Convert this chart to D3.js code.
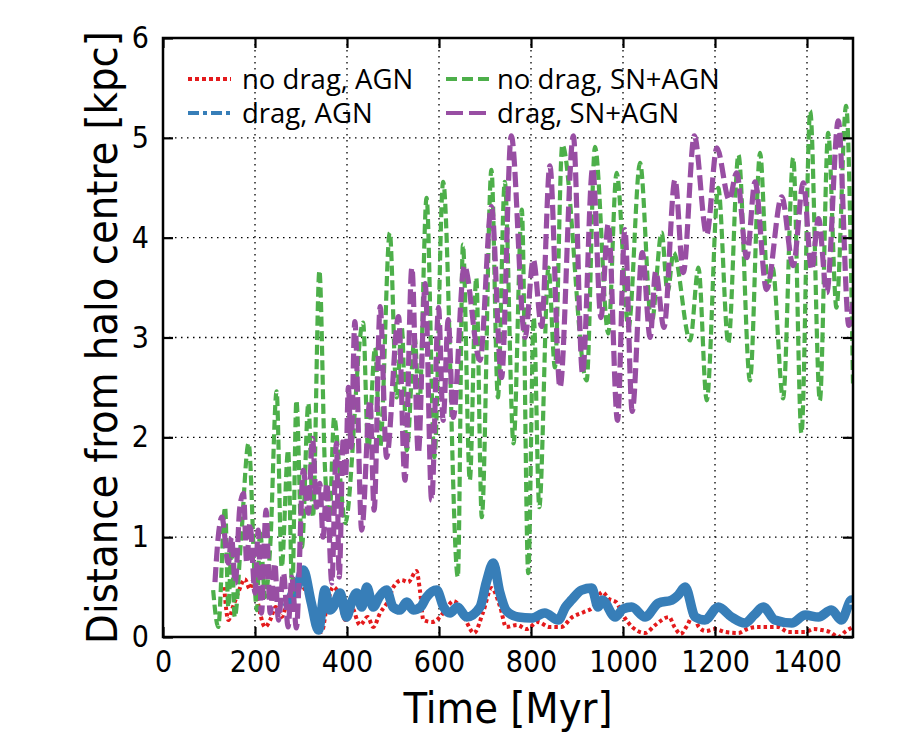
<!DOCTYPE html>
<html><head><meta charset="utf-8">
<script src="https://cdn.jsdelivr.net/npm/d3@7"></script>
<style>
html,body{margin:0;padding:0;background:#fff;}
svg{display:block;}
</style>
</head><body>
<svg id="chart" width="900" height="750"></svg>
<script>
// ---------------- data ----------------
const xTicks = [0, 200, 400, 600, 800, 1000, 1200, 1400];
const yTicks = [0, 1, 2, 3, 4, 5, 6];
const xTitle = "Time [Myr]";
const yTitle = "Distance from halo centre [kpc]";
const seriesNames = ["no drag, AGN", "drag, AGN", "no drag, SN+AGN", "drag, SN+AGN"];

// no drag, AGN  [time (Myr), distance (kpc)]
const noDragAGN = [[133,0.5],[142,0.17],[152,0.3],[164,0.45],[178,0.58],[189,0.48],[196,0.57],[204,0.4],[211,0.24],[222,0.1],[233,0.17],[245,0.3],[258,0.2],[270,0.35],[283,0.44],[298,0.54],[312,0.44],[330,0.24],[345,0.05],[356,0.3],[370,0.5],[381,0.44],[396,0.17],[410,0.3],[428,0.12],[445,0.2],[457,0.1],[472,0.24],[488,0.35],[501,0.5],[519,0.57],[533,0.55],[551,0.66],[559,0.45],[566,0.17],[585,0.15],[602,0.2],[618,0.3],[631,0.36],[646,0.3],[660,0.15],[676,0.04],[696,0.25],[714,0.49],[733,0.3],[746,0.1],[770,0.12],[790,0.08],[815,0.15],[840,0.1],[865,0.1],[890,0.2],[915,0.25],[935,0.3],[955,0.45],[970,0.38],[985,0.35],[1000,0.22],[1020,0.1],[1048,0.04],[1070,0.12],[1100,0.2],[1112,0.1],[1125,0.03],[1140,0.12],[1152,0.22],[1165,0.1],[1180,0.06],[1200,0.08],[1222,0.05],[1251,0.04],[1270,0.08],[1290,0.1],[1316,0.1],[1337,0.1],[1360,0.05],[1396,0.05],[1415,0.08],[1432,0.07],[1450,0.05],[1468,0.0],[1485,0.06],[1500,0.1]];

// drag, AGN
const dragAGN = [[270,0.3],[280,0.42],[292,0.5],[305,0.67],[322,0.35],[338,0.07],[352,0.47],[363,0.27],[370,0.3],[385,0.44],[399,0.2],[410,0.35],[421,0.44],[432,0.3],[443,0.5],[457,0.3],[470,0.4],[486,0.47],[500,0.3],[515,0.27],[530,0.35],[544,0.27],[560,0.3],[573,0.4],[595,0.47],[610,0.3],[624,0.24],[640,0.3],[660,0.2],[689,0.3],[703,0.55],[718,0.74],[732,0.45],[747,0.26],[772,0.2],[801,0.19],[830,0.24],[859,0.17],[875,0.3],[888,0.37],[910,0.47],[932,0.49],[946,0.3],[955,0.37],[983,0.2],[1000,0.28],[1019,0.3],[1048,0.2],[1077,0.34],[1106,0.37],[1120,0.42],[1135,0.5],[1157,0.2],[1178,0.17],[1207,0.3],[1236,0.2],[1265,0.14],[1285,0.22],[1305,0.3],[1330,0.17],[1367,0.14],[1396,0.22],[1425,0.2],[1453,0.27],[1475,0.17],[1497,0.37],[1500,0.35]];

// no drag, SN+AGN
const noDragSNAGN = [[109,0.47],[120,0.1],[135,1.3],[142,0.3],[149,0.9],[156,0.2],[170,1.0],[186,1.94],[204,0.27],[211,1.07],[222,0.4],[233,0.9],[247,2.46],[258,0.7],[272,1.87],[281,0.45],[290,2.37],[302,0.9],[316,2.34],[326,1.2],[340,3.67],[352,1.7],[362,1.2],[372,2.2],[385,1.6],[396,1.14],[435,3.15],[446,1.87],[461,2.9],[472,1.9],[493,4.05],[508,2.4],[519,3.1],[530,1.87],[547,3.0],[557,2.3],[573,4.4],[590,1.8],[609,4.56],[641,0.6],[652,3.93],[667,1.57],[681,3.6],[693,1.2],[714,4.68],[728,2.4],[743,4.56],[762,1.94],[780,4.28],[794,0.64],[806,3.2],[818,1.3],[838,3.7],[852,2.7],[868,4.93],[921,2.57],[939,4.91],[968,3.04],[986,4.65],[1012,3.1],[1037,4.75],[1062,3.14],[1084,4.05],[1097,3.45],[1110,3.85],[1146,2.97],[1164,3.7],[1182,2.37],[1207,4.5],[1229,2.94],[1251,4.83],[1276,2.57],[1298,4.85],[1315,3.5],[1325,3.7],[1348,2.39],[1370,4.8],[1388,2.04],[1407,5.27],[1428,2.37],[1446,5.05],[1464,3.3],[1485,5.32],[1500,2.54]];

// drag, SN+AGN
const dragSNAGN = [[113,0.55],[120,1.0],[128,1.2],[142,0.74],[149,1.0],[157,0.54],[167,1.3],[175,1.44],[182,0.74],[189,1.14],[200,0.44],[207,1.07],[214,0.24],[224,1.27],[233,0.24],[243,0.74],[251,0.17],[262,0.64],[272,0.1],[280,0.6],[290,0.09],[305,1.67],[316,1.24],[325,1.99],[334,1.3],[341,1.54],[348,1.0],[356,1.54],[367,0.54],[377,1.94],[383,0.6],[392,2.0],[397,1.6],[403,2.5],[409,1.9],[417,3.16],[432,1.07],[450,2.37],[459,1.27],[472,3.31],[486,1.8],[512,3.21],[526,1.57],[541,3.7],[555,1.84],[570,3.54],[584,1.37],[599,3.3],[609,2.17],[620,3.18],[631,2.2],[655,3.72],[689,2.77],[714,4.31],[736,2.6],[757,5.02],[787,3.0],[805,3.78],[823,3.11],[841,4.72],[863,2.5],[892,5.02],[912,2.64],[934,4.7],[952,3.2],[968,4.14],[988,2.17],[1004,4.08],[1020,2.26],[1042,3.85],[1059,3.0],[1071,3.66],[1089,3.1],[1113,4.58],[1131,3.65],[1155,5.02],[1182,4.03],[1204,4.9],[1231,4.38],[1247,4.65],[1269,3.8],[1287,4.56],[1312,3.48],[1345,4.41],[1370,3.72],[1392,4.55],[1410,3.68],[1425,4.19],[1443,3.45],[1468,5.17],[1491,3.12],[1500,3.35]];

// ---------------- drawing ----------------
const svg = d3.select("#chart");
const L = 163, R = 853, T = 38, B = 637;
const x = d3.scaleLinear().domain([0, 1500]).range([L, R]);
const y = d3.scaleLinear().domain([0, 6]).range([B, T]);
const FONT = "'Liberation Sans Narrow','DejaVu Sans Condensed',sans-serif";

svg.append("defs").append("clipPath").attr("id", "clip")
  .append("rect").attr("x", L).attr("y", T).attr("width", R - L).attr("height", B - T);

// grid
const grid = svg.append("g");
grid.selectAll(".gx").data(xTicks.filter(d => d > 0)).join("line")
  .attr("x1", d => x(d)).attr("x2", d => x(d)).attr("y1", T).attr("y2", B)
  .attr("stroke", "#000").attr("stroke-width", 1.3).attr("stroke-dasharray", "1.5,4.5");
grid.selectAll(".gy").data(yTicks.filter(d => d > 0 && d < 6)).join("line")
  .attr("y1", d => y(d)).attr("y2", d => y(d)).attr("x1", L).attr("x2", R)
  .attr("stroke", "#000").attr("stroke-width", 1.3).attr("stroke-dasharray", "1.5,4.5");

// lines
const line = d3.line().x(d => x(d[0])).y(d => y(d[1])).curve(d3.curveMonotoneX);
const plot = svg.append("g").attr("clip-path", "url(#clip)");
const styles = [
  {data: noDragAGN, color: "#e41a1c", w: 4, dash: "3.5,3"},
  {data: dragAGN, color: "#377eb8", w: 9.5, dash: null},
  {data: noDragSNAGN, color: "#4daf4a", w: 4.2, dash: "10,4.5"},
  {data: dragSNAGN, color: "#984ea3", w: 5.2, dash: "15,5.5"}
];
styles.forEach(s => {
  plot.append("path").datum(s.data).attr("d", line)
    .attr("fill", "none").attr("stroke", s.color).attr("stroke-width", s.w)
    .attr("stroke-dasharray", s.dash).attr("stroke-linejoin", "round");
});

// axes (ticks inward)
const gB = svg.append("g").attr("transform", `translate(0,${B})`)
  .call(d3.axisBottom(x).tickValues(xTicks).tickSizeInner(-10).tickSizeOuter(0).tickPadding(14).tickFormat(d3.format("d")));
const gT = svg.append("g").attr("transform", `translate(0,${T})`)
  .call(d3.axisTop(x).tickValues(xTicks).tickSizeInner(-10).tickSizeOuter(0).tickFormat(""));
const gL = svg.append("g").attr("transform", `translate(${L},0)`)
  .call(d3.axisLeft(y).tickValues(yTicks).tickSizeInner(-10).tickSizeOuter(0).tickPadding(14).tickFormat(d3.format("d")));
const gR = svg.append("g").attr("transform", `translate(${R},0)`)
  .call(d3.axisRight(y).tickValues(yTicks).tickSizeInner(-10).tickSizeOuter(0).tickFormat(""));
[gB, gT, gL, gR].forEach(g => {
  g.select(".domain").remove();
  g.selectAll(".tick line").attr("stroke", "#000").attr("stroke-width", 2.2);
  g.selectAll("text").attr("font-family", FONT).attr("font-size", 30).attr("fill", "#000");
});
gB.selectAll("text").attr("dy", "0.71em");

// frame
svg.append("rect").attr("x", L).attr("y", T).attr("width", R - L).attr("height", B - T)
  .attr("fill", "none").attr("stroke", "#000").attr("stroke-width", 2.5);

// axis titles
svg.append("text").attr("x", (L + R) / 2).attr("y", 723).attr("text-anchor", "middle")
  .attr("font-family", FONT).attr("font-size", 43).text(xTitle);
svg.append("text").attr("transform", `translate(117,${(T + B) / 2}) rotate(-90)`)
  .attr("text-anchor", "middle").attr("font-family", FONT).attr("font-size", 43).text(yTitle);

// legend
const legendPos = [
  {sx: 188, tx: 242, cy: 79},
  {sx: 188, tx: 242, cy: 113},
  {sx: 446, tx: 497, cy: 79},
  {sx: 446, tx: 497, cy: 113}
];
const legDash = ["4,3", "11,4,4,4", "11,5", "17,6"];
const legend = svg.append("g");
styles.forEach((s, i) => {
  const p = legendPos[i];
  legend.append("line").attr("x1", p.sx).attr("x2", p.sx + 43).attr("y1", p.cy).attr("y2", p.cy)
    .attr("stroke", s.color).attr("stroke-width", 4).attr("stroke-dasharray", legDash[i]);
  legend.append("text").attr("x", p.tx).attr("y", p.cy).attr("dy", "0.35em")
    .attr("font-family", "'Open Sans',sans-serif").attr("font-size", 27.5).text(seriesNames[i]);
});
</script>
</body></html>
